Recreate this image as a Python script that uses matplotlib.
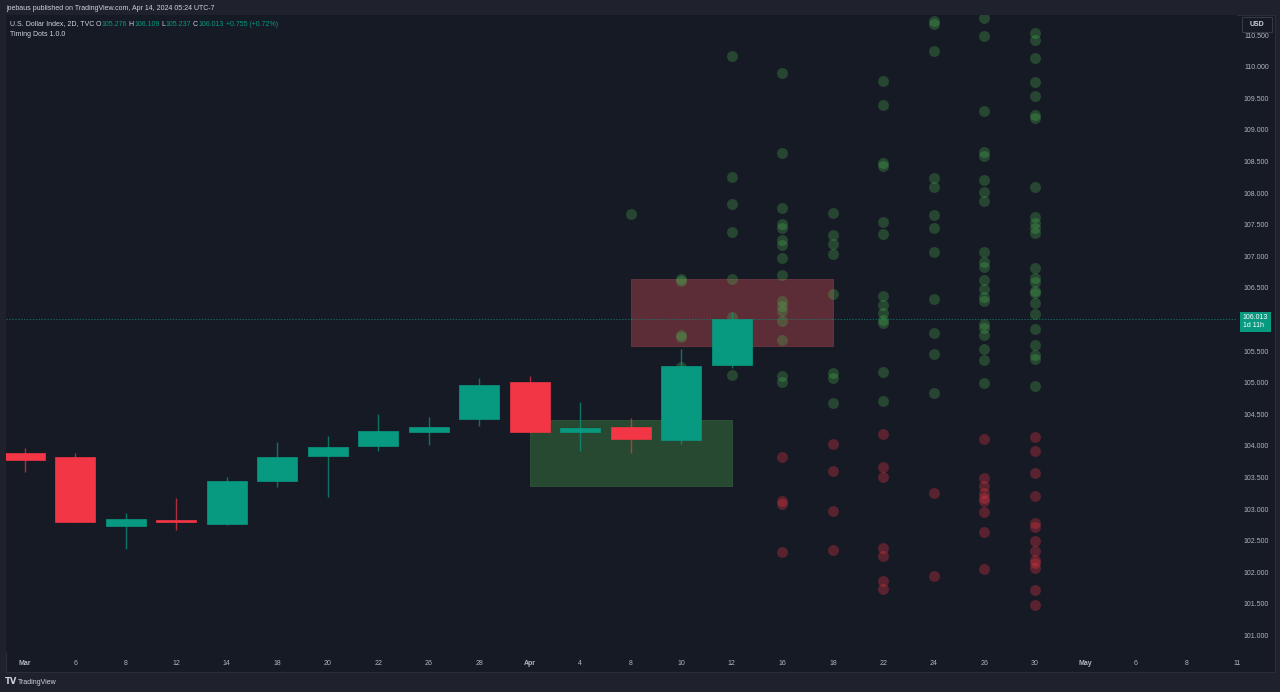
import matplotlib
matplotlib.use("Agg")
import matplotlib.pyplot as plt
from matplotlib.patches import Rectangle

plt.rcParams['font.family'] = ['Liberation Sans', 'DejaVu Sans']

# time scale labels (one per 2D bar)
date_labels = ["Mar", "6", "8", "12", "14", "18", "20", "22", "26", "28", "Apr", "4", "8",
               "10", "12", "16", "18", "22", "24", "26", "30", "May", "6", "8", "11"]

# candles
opens = [103.892, 103.820, 102.733, 102.828, 102.759, 103.445, 103.835, 103.994,
         104.215, 104.430, 105.006, 104.225, 104.294, 104.093, 105.276]
highs = [103.967, 103.892, 102.938, 103.176, 103.503, 104.066, 104.157, 104.505,
         104.457, 105.074, 105.101, 104.695, 104.441, 105.528, 106.109]
lows = [103.582, 102.791, 102.369, 102.669, 102.743, 103.345, 103.187, 103.924,
        104.014, 104.315, 104.225, 103.919, 103.892, 104.030, 105.237]
closes = [103.777, 102.791, 102.848, 102.791, 103.449, 103.829, 103.978, 104.231,
          104.294, 104.968, 104.225, 104.288, 104.109, 105.264, 106.013]

# timing dots
dot_bars = [12, 13, 14, 15, 16, 17, 18, 19, 20]
green_dots = [
    [107.67],
    [106.64, 106.61, 105.755, 105.72, 105.25],
    [110.17, 108.25, 107.83, 107.38, 106.64, 106.04, 105.12],
    [109.90, 108.63, 107.76, 107.51, 107.45, 107.26, 107.18, 106.97, 106.70, 106.29,
     106.21, 106.13, 105.98, 105.68, 105.11, 105.01],
    [107.69, 107.34, 107.19, 107.04, 106.40, 105.15, 105.07, 104.68],
    [109.77, 109.39, 108.48, 108.43, 107.54, 107.35, 106.37, 106.23, 106.10, 105.99,
     105.94, 105.17, 104.71],
    [110.72, 110.68, 110.25, 108.24, 108.10, 107.65, 107.45, 107.07, 106.32, 105.79,
     105.45, 104.84],
    [110.77, 110.49, 109.30, 108.65, 108.59, 108.21, 108.02, 107.88, 107.07, 106.91,
     106.83, 106.63, 106.48, 106.36, 106.29, 105.93, 105.87, 105.75, 105.53, 105.36,
     104.99],
    [110.53, 110.42, 110.14, 109.76, 109.54, 109.24, 109.19, 108.10, 107.62, 107.53,
     107.45, 107.37, 106.81, 106.66, 106.59, 106.45, 106.42, 106.26, 106.09, 105.85,
     105.60, 105.44, 105.38, 104.95],
]
red_dots = [
    [],
    [],
    [],
    [103.82, 103.13, 103.08, 102.32],
    [104.03, 103.60, 102.97, 102.35],
    [104.19, 103.67, 103.51, 102.38, 102.26, 101.86, 101.74],
    [103.25, 101.94],
    [104.11, 103.49, 103.37, 103.25, 103.18, 103.13, 102.95, 102.64, 102.05],
    [104.14, 103.92, 103.57, 103.21, 102.78, 102.72, 102.50, 102.34, 102.19, 102.15,
     102.07, 101.72, 101.48],
]

# zones: (start bar, end bar, low, high)
red_zone = (12, 16, 105.585, 106.641)
green_zone = (10, 14, 103.370, 104.405)

BG = "#161a25"
FRAME = "#1f222d"
UP = "#089981"
DOWN = "#f23645"
TXT = "#b2b5be"

fig = plt.figure(figsize=(12.8, 6.92), dpi=100, facecolor=FRAME)
W, H = 1280, 692

# chart pane background
fig.patches.append(Rectangle((6 / W, 1 - 672 / H), 1269 / W, 657 / H, transform=fig.transFigure,
                             facecolor=BG, edgecolor="#2a2e39", lw=0.8, zorder=-5))

ax = fig.add_axes([6 / W, 1 - 652 / H, 1231 / W, 637 / H])
ax.set_facecolor(BG)
for s in ax.spines.values():
    s.set_visible(False)

# zones
for (x0, x1, lo, hi), fc, ec in [(red_zone, "#5c2d37", "#6b3540"), (green_zone, "#284931", "#2f5538")]:
    ax.add_patch(Rectangle((x0, lo), x1 - x0, hi - lo, facecolor=fc, edgecolor=ec, lw=0.6, zorder=1))

# dots
for b, g, r in zip(dot_bars, green_dots, red_dots):
    if g:
        ax.scatter([b] * len(g), g, s=62, color="#4caf50", alpha=0.3, linewidths=0, zorder=2)
    if r:
        ax.scatter([b] * len(r), r, s=62, color=DOWN, alpha=0.3, linewidths=0, zorder=2)

# candles
xs = list(range(len(opens)))
cols = [UP if c >= o else DOWN for o, c in zip(opens, closes)]
ax.vlines(xs, lows, highs, colors=cols, lw=1.0, alpha=0.7, zorder=3)
bottoms = [min(o, c) for o, c in zip(opens, closes)]
heights = [max(abs(c - o), 0.03) for o, c in zip(opens, closes)]
ax.bar(xs, heights, bottom=bottoms, width=0.79, color=cols, edgecolor=cols, lw=0.5, zorder=4)

# last price line
last = closes[-1]
ax.axhline(last, color=UP, lw=0.7, ls=(0, (1.5, 1.5)), alpha=0.6, zorder=2.5)

ax.set_xlim(-0.368, 24.0)
ax.set_ylim(100.739, 110.818)

ax.set_xticks(range(len(date_labels)))
ax.set_xticklabels(date_labels)
for lab in ax.get_xticklabels():
    if lab.get_text() in ("Mar", "Apr", "May"):
        lab.set_fontweight("bold")
ax.tick_params(axis="x", length=0, pad=6, labelsize=5, labelcolor=TXT)

# 106.000 sits under the last-price label, so it is not shown
yt = [101 + 0.5 * i for i in range(20) if i != 10]
ax.set_yticks(yt)
ax.set_yticklabels([f"{v:.3f}" for v in yt])
ax.yaxis.tick_right()
ax.tick_params(axis="y", length=0, pad=23, labelsize=5, labelcolor=TXT)
for lab in ax.get_yticklabels():
    lab.set_ha("right")

# last price label
ax.annotate(f"{last:.3f}\n1d 11h", xy=(1, last), xycoords=ax.get_yaxis_transform(),
            xytext=(4.2, -2.2), textcoords="offset points", ha="left", va="center",
            fontsize=5, color="white", linespacing=1.15, annotation_clip=False, zorder=10,
            bbox=dict(boxstyle="square,pad=0.35", fc=UP, ec="none"))

# USD box
fig.patches.append(Rectangle((1242 / W, 1 - 32 / H), 30 / W, 15 / H, transform=fig.transFigure,
                             facecolor=BG, edgecolor="#363a45", lw=0.8, zorder=5))
fig.text(1257 / W, 1 - 24.5 / H, "USD", ha="center", va="center", fontsize=5,
         color="#d1d4dc", fontweight="bold", zorder=6)

# header
fig.text(6 / W, 1 - 8 / H, "joebaus published on TradingView.com, Apr 14, 2024 05:24 UTC-7",
         ha="left", va="center", fontsize=5, color="#d1d4dc")

# legend
t = fig.text(10 / W, 1 - 24 / H, "U.S. Dollar Index, 2D, TVC", ha="left", va="center",
             fontsize=5, color="#d1d4dc")
pieces = [(" O", "#d1d4dc"), ("105.276", UP), (" H", "#d1d4dc"), ("106.109", UP),
          (" L", "#d1d4dc"), ("105.237", UP), (" C", "#d1d4dc"), ("106.013", UP),
          (" +0.755 (+0.72%)", UP)]
for txt, c in pieces:
    t = ax.annotate(txt, xy=(1, 0.5), xycoords=t, ha="left", va="center",
                    fontsize=5, color=c, annotation_clip=False)
fig.text(10 / W, 1 - 34 / H, "Timing Dots 1.0.0", ha="left", va="center", fontsize=5, color="#d1d4dc")

# footer
fig.text(5 / W, 1 - 682 / H, "TV", ha="left", va="center", fontsize=6, color="#d1d4dc",
         fontweight="bold", family="DejaVu Sans")
fig.text(18 / W, 1 - 682 / H, "TradingView", ha="left", va="center", fontsize=5, color="#d1d4dc")

fig.savefig("out.png", dpi=100, facecolor=FRAME)
